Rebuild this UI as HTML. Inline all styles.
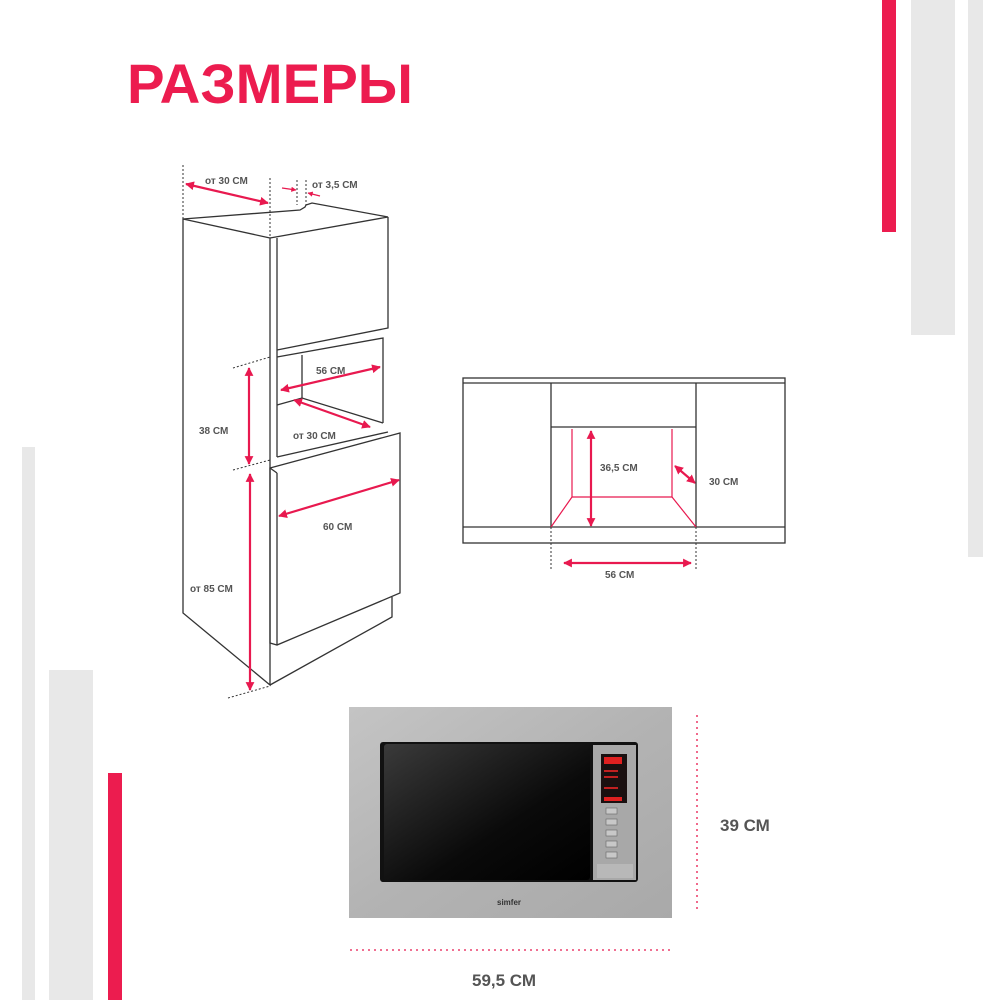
<!DOCTYPE html>
<html><head><meta charset="utf-8"><style>
html,body{margin:0;padding:0;background:#fff;}
svg{display:block;}
text{font-family:"Liberation Sans",sans-serif;font-weight:bold;}
</style></head><body>
<svg width="1000" height="1000" viewBox="0 0 1000 1000" xmlns="http://www.w3.org/2000/svg">
<defs>
<marker id="a" viewBox="0 0 10 10" refX="9" refY="5" markerWidth="4" markerHeight="4" orient="auto-start-reverse"><path d="M0,0L10,5L0,10z" fill="#e8194f"/></marker>
<linearGradient id="st" x1="0" y1="0" x2="1" y2="1"><stop offset="0" stop-color="#c4c4c4"/><stop offset="0.5" stop-color="#b3b3b3"/><stop offset="1" stop-color="#a9a9a9"/></linearGradient>
<linearGradient id="gl" x1="0" y1="0" x2="1" y2="1"><stop offset="0" stop-color="#3a3a3a"/><stop offset="0.6" stop-color="#0a0a0a"/><stop offset="1" stop-color="#000"/></linearGradient>
</defs>
<!-- decorative bars -->
<rect x="882" y="0" width="14" height="232" fill="#ec1c4f"/>
<rect x="911" y="0" width="44" height="335" fill="#e8e8e8"/>
<rect x="968" y="0" width="15" height="557" fill="#e8e8e8"/>
<rect x="22" y="447" width="13" height="553" fill="#e8e8e8"/>
<rect x="49" y="670" width="44" height="330" fill="#e8e8e8"/>
<rect x="108" y="773" width="14" height="227" fill="#ec1c4f"/>
<text x="127" y="103" font-size="56" fill="#ec1c4f" textLength="286" lengthAdjust="spacingAndGlyphs">РАЗМЕРЫ</text>

<!-- cabinet -->
<g fill="none" stroke="#333" stroke-width="1.3">
<polygon points="183,219 270,238 270,685 183,613"/>
<polyline points="183,219 300,210 305,207 306,205 312,203 388,217 270,238"/>
<line x1="277" y1="238" x2="277" y2="457"/>
<polyline points="388,217 388,328 277,350"/>
<polyline points="277,357 383,338 383,423"/>
<line x1="302" y1="355" x2="302" y2="398"/>
<polyline points="277,405 302,398 383,423"/>
<line x1="277" y1="457" x2="388" y2="432"/>
<polygon points="270,468 400,433 400,593 277,645 270,643"/>
<line x1="277" y1="473" x2="277" y2="645"/>
<line x1="270" y1="468" x2="277" y2="473"/>
<polyline points="270,685 392,617 392,597"/>
</g>
<g stroke="#333" stroke-width="1" stroke-dasharray="2,2" fill="none">
<line x1="183" y1="165" x2="183" y2="219"/>
<line x1="270" y1="178" x2="270" y2="240"/>
<line x1="297" y1="180" x2="297" y2="205"/>
<line x1="306" y1="180" x2="306" y2="205"/>
<line x1="233" y1="368" x2="270" y2="357"/>
<line x1="233" y1="470" x2="270" y2="460"/>
<line x1="228" y1="698" x2="270" y2="686"/>
</g>
<g stroke="#e8194f" stroke-width="2.2" fill="none" marker-start="url(#a)" marker-end="url(#a)">
<line x1="186" y1="184" x2="268" y2="203"/>
<line x1="249" y1="368" x2="249" y2="464"/>
<line x1="250" y1="474" x2="250" y2="690"/>
<line x1="281" y1="390" x2="380" y2="367"/>
<line x1="294" y1="400" x2="370" y2="427"/>
<line x1="279" y1="516" x2="399" y2="480"/>
<line x1="564" y1="563" x2="691" y2="563"/>
<line x1="591" y1="431" x2="591" y2="526"/>
<line x1="675" y1="466" x2="695" y2="483"/>
</g>
<g stroke="#e8194f" stroke-width="1.3" fill="none" marker-end="url(#a)">
<line x1="282" y1="188" x2="296" y2="190"/>
<line x1="320" y1="196" x2="308" y2="193"/>
</g>
<g font-size="10" fill="#555">
<text x="205" y="184">от 30 СМ</text>
<text x="312" y="188">от 3,5 СМ</text>
<text x="316" y="374">56 СМ</text>
<text x="199" y="434">38 СМ</text>
<text x="293" y="439">от 30 СМ</text>
<text x="323" y="530">60 СМ</text>
<text x="190" y="592">от 85 СМ</text>
<text x="600" y="471">36,5 СМ</text>
<text x="709" y="485">30 СМ</text>
<text x="605" y="578">56 СМ</text>
</g>

<!-- front view -->
<g fill="none" stroke="#333" stroke-width="1.3">
<rect x="463" y="378" width="322" height="165"/>
<line x1="463" y1="383" x2="785" y2="383"/>
<line x1="551" y1="383" x2="551" y2="527"/>
<line x1="696" y1="383" x2="696" y2="527"/>
<line x1="463" y1="527" x2="785" y2="527"/>
<line x1="551" y1="427" x2="696" y2="427"/>
</g>
<g fill="none" stroke="#e8194f" stroke-width="1.2">
<polyline points="572,429 572,497 672,497 672,429"/>
<line x1="572" y1="497" x2="551" y2="527"/>
<line x1="672" y1="497" x2="696" y2="527"/>
</g>
<g stroke="#333" stroke-width="1" stroke-dasharray="2,2">
<line x1="551" y1="527" x2="551" y2="571"/>
<line x1="696" y1="527" x2="696" y2="571"/>
</g>

<!-- microwave -->
<rect x="349" y="707" width="323" height="211" fill="url(#st)"/>
<rect x="380" y="742" width="258" height="140" rx="3" fill="#111"/>
<rect x="384" y="744" width="206" height="136" rx="3" fill="url(#gl)"/>
<rect x="593" y="745" width="43" height="135" fill="#a8a8a8"/>
<rect x="601" y="754" width="26" height="49" fill="#1a1010"/>
<rect x="604" y="757" width="18" height="7" fill="#e02020"/>
<rect x="604" y="770" width="14" height="2" fill="#c02020"/>
<rect x="604" y="776" width="14" height="2" fill="#c02020"/>
<rect x="604" y="787" width="14" height="2" fill="#c02020"/>
<rect x="604" y="797" width="18" height="4" fill="#e02020"/>
<g fill="#c8c8c8" stroke="#666" stroke-width="0.6">
<rect x="606" y="808" width="11" height="6"/>
<rect x="606" y="819" width="11" height="6"/>
<rect x="606" y="830" width="11" height="6"/>
<rect x="606" y="841" width="11" height="6"/>
<rect x="606" y="852" width="11" height="6"/>
</g>
<rect x="597" y="864" width="36" height="14" fill="#b8b8b8"/>
<text x="497" y="905" font-size="8" fill="#333">simfer</text>
<g stroke="#e8194f" stroke-width="1.3" stroke-dasharray="2,4">
<line x1="697" y1="715" x2="697" y2="912"/>
<line x1="350" y1="950" x2="670" y2="950"/>
</g>
<text x="720" y="831" font-size="17" fill="#555">39 СМ</text>
<text x="472" y="986" font-size="17" fill="#555">59,5 СМ</text>
</svg>
</body></html>
